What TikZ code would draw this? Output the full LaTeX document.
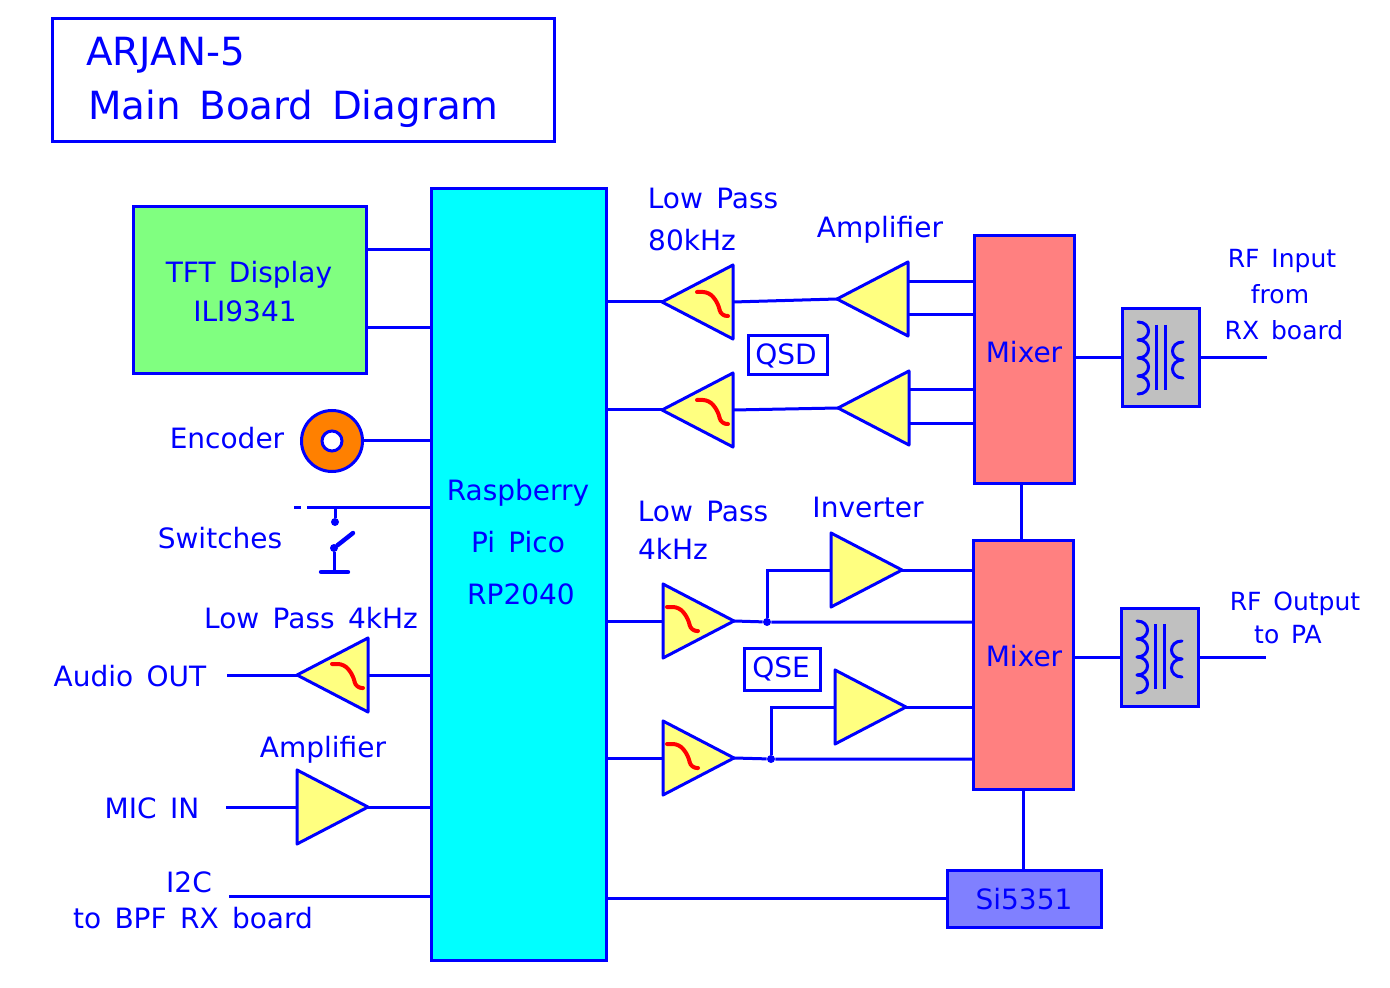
\documentclass[tikz,border=0pt]{standalone}
\usepackage{fontspec}
\setmainfont[WordSpace=1.5]{DejaVu Sans}
\usetikzlibrary{shapes.geometric}
\definecolor{wireblue}{HTML}{0000FF}
\definecolor{picocyan}{HTML}{00FFFF}
\definecolor{tftgreen}{HTML}{80FF80}
\definecolor{mixred}{HTML}{FF8080}
\definecolor{ampyellow}{HTML}{FFFF80}
\definecolor{xfgray}{HTML}{C0C0C0}
\definecolor{siblue}{HTML}{8080FF}
\definecolor{encorange}{HTML}{FF8000}
\tikzset{
  wire/.style={draw=wireblue,line width=1.5pt},
  box/.style={draw=wireblue,line width=1.5pt,inner sep=0pt,outer sep=0pt},
  lbl/.style={text=wireblue,inner sep=0pt,font=\fontsize{14}{16}\selectfont},
  sml/.style={text=wireblue,inner sep=0pt,font=\fontsize{12.5}{15}\selectfont},
  bigl/.style={text=wireblue,inner sep=0pt,anchor=west,font=\fontsize{19.4}{23}\selectfont},
  ampr/.style={isosceles triangle,isosceles triangle apex angle=53,isosceles triangle stretches,
    minimum width=37pt,minimum height=35.5pt,inner sep=0pt,outer sep=0pt,anchor=apex,
    draw=wireblue,fill=ampyellow,line width=1.5pt,line join=round},
  ampl/.style={ampr,shape border rotate=180},
  dot/.style={circle,fill=wireblue,inner sep=0pt,minimum size=4pt},
  squig/.style={draw=red,line width=2pt,line cap=round}
}
\newcommand{\lowpass}[1]{%
  \draw[squig,rounded corners=3pt,shift={#1}] (0,0) -- (12,0) -- (21,11) -- (24,24) -- (31,24);
}
\newcommand{\transformer}[1]{%
  \begin{scope}[shift={(#1.north west)}]
    \foreach \i in {0,1,2,3}
      \draw[wire,line cap=round] (16,{13+18*\i}) .. controls (30,{13+18*\i}) and (30,{31+18*\i}) .. (16,{31+18*\i});
    \foreach \i in {0,1}
      \draw[wire,line cap=round] (61,{33+18*\i}) .. controls (47,{33+18*\i}) and (47,{51+18*\i}) .. (61,{51+18*\i});
    \draw[wire] (34,16) -- (34,81);
    \draw[wire] (43,16) -- (43,81);
  \end{scope}
}
\begin{document}
\begin{tikzpicture}[x=0.5pt,y=-0.5pt]
  \useasboundingbox (0,0) rectangle (1390,988);

  % title
  \node[box,minimum width=251pt,minimum height=61.5pt] (title) at (303,80.5) {};
  \node[bigl] (titleA) at (86,55) {ARJAN-5};
  \node[bigl] (titleB) at (88,109) {Main Board Diagram};

  % main blocks
  \node[box,fill=picocyan,minimum width=87.5pt,minimum height=385.5pt] (pico) at (518.5,574.5) {};
  \node[lbl] (picoA) at (518,493) {Raspberry};
  \node[lbl] (picoB) at (518,542) {Pi Pico};
  \node[lbl] (picoC) at (521,594) {RP2040};
  \node[box,fill=tftgreen,minimum width=116.5pt,minimum height=83.5pt] (tft) at (249.5,290.5) {};
  \node[lbl] (tftA) at (249,275) {TFT Display};
  \node[lbl] (tftB) at (245,311) {ILI9341};
  \node[box,fill=mixred,minimum width=50pt,minimum height=123.5pt] (mixA) at (1024,359.5) {};
  \node[lbl] (mixAt) at (1024,352) {Mixer};
  \node[box,fill=mixred,minimum width=50pt,minimum height=124.5pt] (mixB) at (1023,664.5) {};
  \node[lbl] (mixBt) at (1024,656) {Mixer};
  \node[box,fill=siblue,minimum width=77pt,minimum height=28.5pt] (si) at (1024,898.5) {};
  \node[lbl] (sit) at (1024,899) {Si5351};
  \node[box,fill=xfgray,minimum width=38.5pt,minimum height=49pt] (xfA) at (1160.5,358) {};
  \node[box,fill=xfgray,minimum width=38.5pt,minimum height=49pt] (xfB) at (1159.5,657) {};
  \transformer{xfA}
  \transformer{xfB}
  \node[box,fill=white,minimum width=39.5pt,minimum height=19.5pt] (qsd) at (787.5,355.5) {};
  \node[lbl] (qsdt) at (786,355.5) {QSD};
  \node[box,fill=white,minimum width=38pt,minimum height=21pt] (qse) at (782,669) {};
  \node[lbl] (qset) at (781,669) {QSE};

  % encoder
  \node[circle,draw=wireblue,fill=encorange,line width=1.5pt,inner sep=0pt,minimum size=30.5pt] (enc) at (332,441) {};
  \node[circle,draw=wireblue,fill=white,line width=1.5pt,inner sep=0pt,minimum size=10pt] (encB) at (332,441) {};

  % triangles
  \node[ampl] (lpA) at (662,302) {};
  \node[ampl] (lpB) at (662,410) {};
  \node[ampl] (ampA) at (837,299) {};
  \node[ampl] (ampB) at (838,408) {};
  \node[ampr] (lpC) at (734,621) {};
  \node[ampr] (lpD) at (734,758) {};
  \node[ampr] (invA) at (902,570) {};
  \node[ampr] (invB) at (906,707) {};
  \node[ampl] (lpE) at (297,675) {};
  \node[ampr] (ampC) at (368,807) {};
  \lowpass{(697,292)}
  \lowpass{(697,400)}
  \lowpass{(667,607)}
  \lowpass{(667,744)}
  \lowpass{(332,664)}

  % free ends and junctions
  \coordinate (rfin) at (1267,358);
  \coordinate (rfout) at (1266,657);
  \coordinate (audio) at (227,675);
  \coordinate (mic) at (226,807);
  \coordinate (i2c) at (229,896);
  \node[dot] (jA) at (767,622) {};
  \node[dot] (jB) at (771,759) {};

  % wiring on the right
  \draw[wire] (pico.east |- lpA.apex) -- (lpA.apex);
  \draw[wire] (pico.east |- lpB.apex) -- (lpB.apex);
  \draw[wire] (lpA.lower side) -- (ampA.apex);
  \draw[wire] (lpB.lower side) -- (ampB.apex);
  \draw[wire] (ampA.lower side |- 0,282) -- (mixA.west |- 0,282);
  \draw[wire] (ampA.lower side |- 0,315) -- (mixA.west |- 0,315);
  \draw[wire] (ampB.lower side |- 0,390) -- (mixA.west |- 0,390);
  \draw[wire] (ampB.lower side |- 0,424) -- (mixA.west |- 0,424);
  \draw[wire] (mixA.east |- xfA) -- (xfA.west);
  \draw[wire] (xfA.east) -- (rfin);
  \draw[wire] (mixA.south -| 1021,0) -- (mixB.north -| 1021,0);
  \draw[wire] (pico.east |- lpC.apex) -- (lpC.lower side);
  \draw[wire] (pico.east |- lpD.apex) -- (lpD.lower side);
  \draw[wire] (lpC.apex) -- (jA) -- (mixB.west |- jA);
  \draw[wire] (lpD.apex) -- (jB) -- (mixB.west |- jB);
  \draw[wire] (jA) |- (invA.lower side);
  \draw[wire] (jB) |- (invB.lower side);
  \draw[wire] (invA.apex) -- (mixB.west |- invA.apex);
  \draw[wire] (invB.apex) -- (mixB.west |- invB.apex);
  \draw[wire] (mixB.east |- xfB) -- (xfB.west);
  \draw[wire] (xfB.east) -- (rfout);
  \draw[wire] (mixB.south) -- (si.north -| mixB.south);
  \draw[wire] (pico.east |- si) -- (si.west);

  % wiring on the left
  \draw[wire] (tft.east |- 0,250) -- (pico.west |- 0,250);
  \draw[wire] (tft.east |- 0,328) -- (pico.west |- 0,328);
  \draw[wire] (enc.east) -- (pico.west |- enc);
  \draw[wire] (audio) -- (lpE.apex);
  \draw[wire] (lpE.lower side) -- (pico.west |- lpE.lower side);
  \draw[wire] (mic) -- (ampC.lower side);
  \draw[wire] (ampC.apex) -- (pico.west |- ampC.apex);
  \draw[wire] (i2c) -- (pico.west |- i2c);

  % switch
  \coordinate (swA) at (307,507);
  \coordinate (swB) at (294,507);
  \coordinate (swC) at (301,507);
  \node[dot] (swD) at (335,522) {};
  \node[dot] (swE) at (334,548) {};
  \coordinate (swF) at (353,533);
  \coordinate (swG) at (334,572);
  \coordinate (swH) at (321,572);
  \coordinate (swI) at (348,572);
  \draw[wire] (swA) -- (pico.west |- swA);
  \draw[wire] (swB) -- (swC);
  \draw[wire] (swD |- swA) -- (swD);
  \draw[wire,line width=2.2pt,line cap=round] (swE) -- (swF);
  \draw[wire] (swE) -- (swG);
  \draw[wire,line width=2.2pt,line cap=round] (swH) -- (swI);

  % labels
  \node[lbl] (lpAa) at (713,198) {Low Pass};
  \node[lbl] (lpAb) at (692,240) {80kHz};
  \node[lbl] (ampAl) at (880,230) {Amplifier};
  \node[sml] (rfinA) at (1282,261) {RF Input};
  \node[sml] (rfinB) at (1280,294) {from};
  \node[sml] (rfinC) at (1284,330) {RX board};
  \node[lbl] (encl) at (227,438) {Encoder};
  \node[lbl] (swl) at (220,538) {Switches};
  \node[lbl] (lpCa) at (703,511) {Low Pass};
  \node[lbl] (lpCb) at (673,549) {4kHz};
  \node[lbl] (invl) at (868,507) {Inverter};
  \node[lbl] (lpEl) at (311,618) {Low Pass 4kHz};
  \node[lbl] (audiol) at (130,676) {Audio OUT};
  \node[lbl] (ampCl) at (323,750) {Amplifier};
  \node[lbl] (micl) at (152,808) {MIC IN};
  \node[lbl] (i2cA) at (189,882) {I2C};
  \node[lbl] (i2cB) at (193,918) {to BPF RX board};
  \node[sml] (rfoutA) at (1295,604) {RF Output};
  \node[sml] (rfoutB) at (1288,635) {to PA};
\end{tikzpicture}
\end{document}
